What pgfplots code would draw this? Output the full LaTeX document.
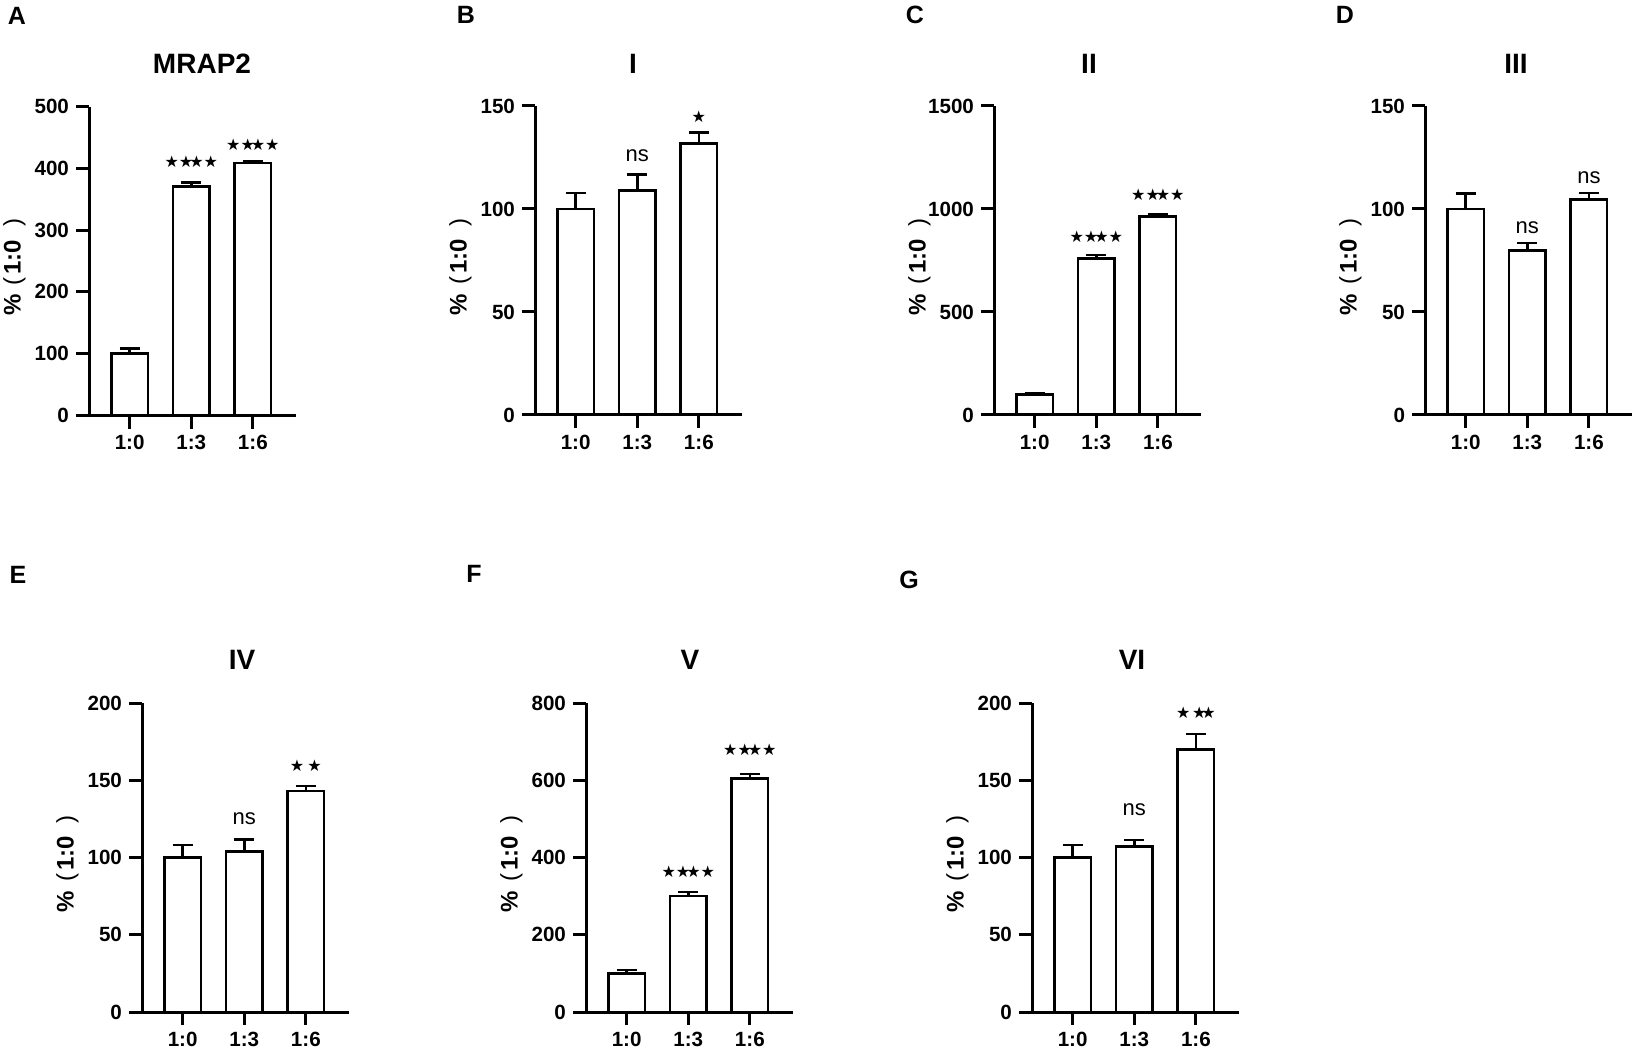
\documentclass[border=0pt]{standalone}
\usepackage{pgfplots}
\pgfplotsset{compat=1.18}
\usepackage{fontspec}
\setmainfont{Liberation Sans}
\newfontfamily\sym{DejaVu Sans}
\newcommand\st{{\sym\fontsize{8}{9}\selectfont ★}}
\newcommand\four{\st\st\hspace{-2pt}\st\st}
\newcommand\ylab{\fontsize{12}{14}\selectfont\bfseries\%\hspace{4.5pt}{\mdseries (}\hspace{1.5pt}1:0\hspace{6.5pt}{\mdseries )}}
\pgfplotsset{
  panel/.style={
    width=103.5pt, height=154.5pt, scale only axis,
    anchor=south west,
    axis on top,
    axis lines=left, axis line style={-, line width=1.5pt, black},
    xmin=-0.66, xmax=2.70, ymin=0, enlargelimits=false,
    xtick={0,1,2}, xticklabels={1:0,1:3,1:6},
    tick align=outside, major tick length=6.5pt,
    tick style={line width=1.5pt, black},
    /pgf/number format/assume math mode=true,
    /pgf/number format/1000 sep={},
    scaled y ticks=false,
    tick label style={font=\bfseries\fontsize{10.3}{12}\selectfont},
    ybar, bar width=18.2pt,
    clip=false,
  },
  bars/.style={draw=black, fill=white, line width=1.35pt,
    error bars/.cd, y dir=plus, y explicit,
    error bar style={line width=1.35pt, black},
    error mark options={rotate=90, black, line width=1.35pt, mark size=5pt}},
}
\newcommand\yl{\node[rotate=90, inner sep=0pt, anchor=center] at (axis description cs:-0.36,0.48) {\ylab};}
\newcommand\ns{\fontsize{11}{12}\selectfont ns}
\begin{document}
\begin{tikzpicture}
\useasboundingbox (0,0) rectangle (818pt,525.5pt);
% A
\begin{axis}[panel, at={(44.5pt,317.75pt)}, ymax=500, ytick={0,100,200,300,400,500}]
\addplot[bars] coordinates {(0,100) +- (0,8) (1,370) +- (0,7) (2,408.5) +- (0,2.5)};
\node at (axis cs:1,411) {\four};
\node at (axis cs:2,437.5) {\four};
\yl
\end{axis}
% B
\begin{axis}[panel, at={(267.5pt,318pt)}, ymax=150, ytick={0,50,100,150}]
\addplot[bars] coordinates {(0,100) +- (0,7.7) (1,109) +- (0,7.7) (2,131.8) +- (0,5.4)};
\node at (axis cs:1,126) {\ns};
\node at (axis cs:2,144.6) {\st};
\yl
\end{axis}
% C
\begin{axis}[panel, at={(497pt,318pt)}, ymax=1500, ytick={0,500,1000,1500}]
\addplot[bars] coordinates {(0,100) +- (0,7) (1,760) +- (0,16) (2,963) +- (0,11)};
\node at (axis cs:1,865) {\four};
\node at (axis cs:2,1071) {\four};
\yl
\end{axis}
% D
\begin{axis}[panel, at={(712.5pt,318pt)}, ymax=150, ytick={0,50,100,150}]
\addplot[bars] coordinates {(0,100) +- (0,7.5) (1,80) +- (0,3.5) (2,104.6) +- (0,3.2)};
\node at (axis cs:1,91) {\ns};
\node at (axis cs:2,115.3) {\ns};
\yl
\end{axis}
% E
\begin{axis}[panel, at={(71pt,19.5pt)}, ymax=200, ytick={0,50,100,150,200}]
\addplot[bars] coordinates {(0,100) +- (0,8) (1,104) +- (0,7.5) (2,143) +- (0,3.3)};
\node at (axis cs:1,125.4) {\ns};
\node at (axis cs:2,159.4) {\st\hspace{1.6pt}\st};
\yl
\end{axis}
% F
\begin{axis}[panel, at={(293pt,19.5pt)}, ymax=800, ytick={0,200,400,600,800}]
\addplot[bars] coordinates {(0,100) +- (0,9) (1,300.5) +- (0,10.4) (2,605) +- (0,11)};
\node at (axis cs:1,363) {\four};
\node at (axis cs:2,678) {\four};
\yl
\end{axis}
% G
\begin{axis}[panel, at={(516pt,19.5pt)}, ymax=200, ytick={0,50,100,150,200}]
\addplot[bars] coordinates {(0,100) +- (0,8) (1,107) +- (0,4.3) (2,170) +- (0,10)};
\node at (axis cs:1,130.7) {\ns};
\node at (axis cs:2,194) {\st\hspace{0.8pt}\st\hspace{-2.5pt}\st};
\yl
\end{axis}
% titles
\begin{scope}[every node/.style={inner sep=0pt, font=\bfseries\fontsize{14}{16}\selectfont}]
\node at (101pt,493.5pt) {MRAP2};
\node at (316.5pt,493.5pt) {I};
\node at (544.5pt,493.5pt) {II};
\node at (758pt,493.5pt) {III};
\node at (121pt,195.5pt) {IV};
\node at (345pt,195.5pt) {V};
\node at (566pt,195.5pt) {VI};
\end{scope}
\begin{scope}[every node/.style={inner sep=0pt, font=\bfseries\fontsize{12.5}{14}\selectfont}]
\node at (8.5pt,517.75pt) {A};
\node at (233pt,518pt) {B};
\node at (457.5pt,518pt) {C};
\node at (672.5pt,518pt) {D};
\node at (9pt,238pt) {E};
\node at (237pt,238.5pt) {F};
\node at (454.5pt,235.5pt) {G};
\end{scope}
\end{tikzpicture}
\end{document}
